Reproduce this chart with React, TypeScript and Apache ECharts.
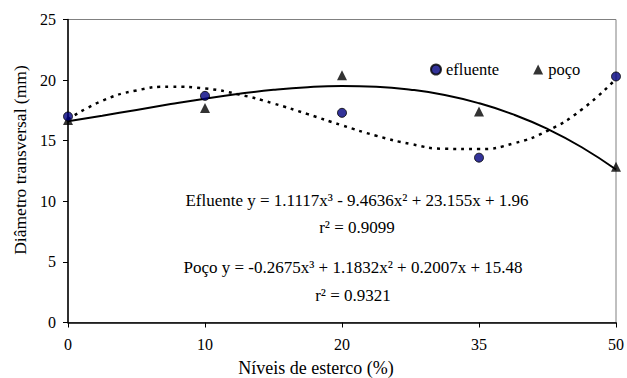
import React, { useEffect, useRef } from "react";
import * as echarts from "echarts";

const categories = ["0", "10", "20", "35", "50"];
const efluente = [17.0, 18.7, 17.3, 13.6, 20.3];
const poco = [16.7, 17.7, 20.4, 17.4, 12.85];

// trend curves at quarter-category steps
const trendPos = [0, 0.25, 0.5, 0.75, 1, 1.25, 1.5, 1.75, 2, 2.25, 2.5, 2.75, 3, 3.25, 3.5, 3.75, 4];
const efluenteTrend = [16.76, 18.29, 19.15, 19.46, 19.31, 18.81, 18.07, 17.19, 16.27, 15.41, 14.73, 14.33, 14.31, 14.77, 15.82, 17.57, 20.1];
const pocoTrend = [16.6, 17.06, 17.54, 18.02, 18.47, 18.87, 19.2, 19.42, 19.51, 19.45, 19.21, 18.77, 18.09, 17.17, 15.97, 14.46, 12.62];

const yTicks = [0, 5, 10, 15, 20, 25];

const xTitle = "Níveis de esterco (%)";
const yTitle = "Diâmetro transversal (mm)";
const eqEfluente = "Efluente y = 1.1117x³ - 9.4636x² + 23.155x + 1.96";
const r2Efluente = "r² = 0.9099";
const eqPoco = "Poço y = -0.2675x³ + 1.1832x² + 0.2007x + 15.48";
const r2Poco = "r² = 0.9321";

const FONT = "Liberation Serif";

export default function App() {
  const ref = useRef<HTMLDivElement>(null);
  useEffect(() => {
    if (!ref.current) return;
    const chart = echarts.init(ref.current, undefined, { renderer: "svg" });
    const textStyle = { fontFamily: FONT, fontSize: 17, fill: "#000" };
    const axisText = { fontFamily: FONT, fontSize: 16, color: "#000" };
    chart.setOption({
      animation: false,
      backgroundColor: "#fff",
      textStyle: { fontFamily: FONT },
      grid: {
        left: 68,
        top: 19.5,
        right: 10,
        bottom: 55.5,
        show: true,
        borderColor: "#808080",
        borderWidth: 1,
      },
      legend: {
        left: 425,
        top: 56,
        itemWidth: 10,
        itemHeight: 10,
        itemGap: 34,
        data: ["efluente", "poço"],
        textStyle: { ...axisText, fontSize: 16.5 },
      },
      xAxis: {
        type: "value",
        min: 0,
        max: 4,
        interval: 1,
        axisLine: { onZero: false, lineStyle: { color: "#000", width: 1.5 } },
        axisTick: { show: true, length: 5, lineStyle: { color: "#000" } },
        axisLabel: {
          ...axisText,
          margin: 14,
          formatter: (v: number) => categories[Math.round(v)] ?? "",
        },
        splitLine: { show: false },
      },
      yAxis: {
        type: "value",
        min: yTicks[0],
        max: yTicks[yTicks.length - 1],
        interval: 5,
        axisLine: { show: true, lineStyle: { color: "#000", width: 1.5 } },
        axisTick: { show: true, length: 5, lineStyle: { color: "#000" } },
        axisLabel: { ...axisText, margin: 12 },
        splitLine: { show: false },
      },
      series: [
        {
          name: "efluente-trend",
          type: "line",
          data: trendPos.map((x, i) => [x, efluenteTrend[i]]),
          showSymbol: false,
          smooth: true,
          lineStyle: { color: "#000", width: 2.5, type: [3, 5] },
          z: 2,
          silent: true,
        },
        {
          name: "poco-trend",
          type: "line",
          data: trendPos.map((x, i) => [x, pocoTrend[i]]),
          showSymbol: false,
          smooth: true,
          lineStyle: { color: "#000", width: 2 },
          z: 2,
          silent: true,
        },
        {
          name: "efluente",
          type: "scatter",
          symbol: "circle",
          symbolSize: 9,
          data: efluente.map((v, i) => [i, v]),
          itemStyle: { color: "#000080", borderColor: "#000", borderWidth: 1 },
          z: 5,
        },
        {
          name: "poço",
          type: "scatter",
          symbol: "triangle",
          symbolSize: 10,
          data: poco.map((v, i) => [i, v]),
          itemStyle: { color: "#000" },
          z: 4,
        },
      ],
      graphic: [
        { type: "text", x: 316, y: 368, style: { ...textStyle, fontSize: 18, text: xTitle, align: "center", verticalAlign: "middle" } },
        { type: "text", x: 19.5, y: 160, rotation: Math.PI / 2, style: { ...textStyle, fontSize: 17.5, text: yTitle, align: "center", verticalAlign: "middle" } },
        { type: "text", x: 357, y: 200, style: { ...textStyle, text: eqEfluente, align: "center", verticalAlign: "middle" } },
        { type: "text", x: 357, y: 227, style: { ...textStyle, text: r2Efluente, align: "center", verticalAlign: "middle" } },
        { type: "text", x: 353, y: 267, style: { ...textStyle, text: eqPoco, align: "center", verticalAlign: "middle" } },
        { type: "text", x: 353, y: 295, style: { ...textStyle, text: r2Poco, align: "center", verticalAlign: "middle" } },
      ],
    });
    return () => chart.dispose();
  }, []);
  return <div ref={ref} style={{ width: 627, height: 378, position: "absolute", left: 0, top: 0 }} />;
}
